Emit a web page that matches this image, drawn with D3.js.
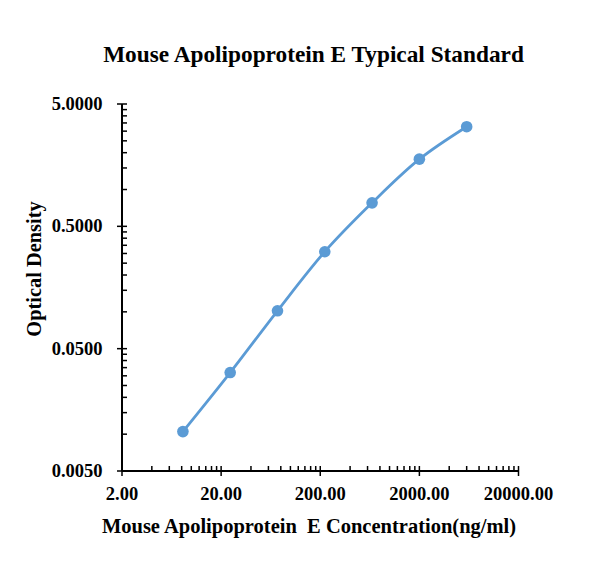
<!DOCTYPE html>
<html><head><meta charset="utf-8">
<script src="https://cdn.jsdelivr.net/npm/d3@7"></script>
<style>body{margin:0;background:#fff}svg{display:block}text{font-family:"Liberation Serif","Times New Roman",serif;font-weight:bold;fill:#000}</style>
</head><body><div id="chart"></div>
<script>
const concentrations = [8.23, 24.69, 74.07, 222.22, 666.67, 2000, 6000];
const odValues = [0.0105, 0.0319, 0.102, 0.310, 0.778, 1.77, 3.26];
const xTicks = [2, 20, 200, 2000, 20000];
const yTicks = [0.005, 0.05, 0.5, 5];
const titleText = "Mouse Apolipoprotein E Typical Standard";
const xTitle = "Mouse Apolipoprotein\u00a0 E Concentration(ng/ml)";
const yTitle = "Optical Density";

const W = 610, H = 588;
const svg = d3.select("#chart").append("svg").attr("width", W).attr("height", H);
const x = d3.scaleLog().domain([2, 20000]).range([122, 518.5]);
const y = d3.scaleLog().domain([0.005, 5]).range([471, 104]);

const color = "#5B9BD5";
const xMinor = [], yMinor = [];
for (let d = 0; d < xTicks.length - 1; d++) for (let k = 2; k <= 9; k++) xMinor.push(xTicks[d] * k);
for (let d = 0; d < yTicks.length - 1; d++) for (let k = 2; k <= 9; k++) yMinor.push(yTicks[d] * k);

const ax = svg.append("g");
ax.selectAll(".xm").data(xMinor).enter().append("line")
  .attr("x1", d => x(d)).attr("x2", d => x(d)).attr("y1", y(0.005) - 5).attr("y2", y(0.005))
  .attr("stroke", "#000").attr("stroke-width", 1.5);
ax.selectAll(".xM").data(xTicks).enter().append("line")
  .attr("x1", d => x(d)).attr("x2", d => x(d)).attr("y1", y(0.005) - 5).attr("y2", y(0.005) + 5)
  .attr("stroke", "#000").attr("stroke-width", 1.5);
ax.selectAll(".ym").data(yMinor).enter().append("line")
  .attr("x1", x(2)).attr("x2", x(2) + 5).attr("y1", d => y(d)).attr("y2", d => y(d))
  .attr("stroke", "#000").attr("stroke-width", 1.5);
ax.selectAll(".yM").data(yTicks).enter().append("line")
  .attr("x1", x(2) - 5).attr("x2", x(2) + 5).attr("y1", d => y(d)).attr("y2", d => y(d))
  .attr("stroke", "#000").attr("stroke-width", 1.5);
ax.append("line").attr("x1", x(2)).attr("x2", x(20000)).attr("y1", y(0.005)).attr("y2", y(0.005))
  .attr("stroke", "#000").attr("stroke-width", 2);
ax.append("line").attr("x1", x(2)).attr("x2", x(2)).attr("y1", y(0.005)).attr("y2", y(5))
  .attr("stroke", "#000").attr("stroke-width", 2);

ax.selectAll(".xl").data(xTicks).enter().append("text")
  .attr("x", d => x(d)).attr("y", 500).attr("text-anchor", "middle").attr("font-size", 18.5)
  .text(d => d.toFixed(2));
ax.selectAll(".yl").data(yTicks).enter().append("text")
  .attr("x", 102.5).attr("y", d => y(d) + 6).attr("text-anchor", "end").attr("font-size", 18.5)
  .text(d => d.toFixed(4));

const pts = concentrations.map((c, i) => [x(c), y(odValues[i])]);
svg.append("path").attr("d", d3.line().curve(d3.curveCatmullRom.alpha(0.5))(pts))
  .attr("fill", "none").attr("stroke", color).attr("stroke-width", 2.75);
svg.selectAll(".pt").data(concentrations).enter().append("circle")
  .attr("cx", d => x(d)).attr("cy", (d, i) => y(odValues[i])).attr("r", 5.8).attr("fill", color);

svg.append("text").attr("x", 313.5).attr("y", 62).attr("text-anchor", "middle").attr("font-size", 23.3).text(titleText);
svg.append("text").attr("x", 309).attr("y", 533).attr("text-anchor", "middle").attr("font-size", 20.5).text(xTitle);
svg.append("text").attr("transform", "translate(41,269) rotate(-90)").attr("text-anchor", "middle").attr("font-size", 20.4).text(yTitle);
</script></body></html>
